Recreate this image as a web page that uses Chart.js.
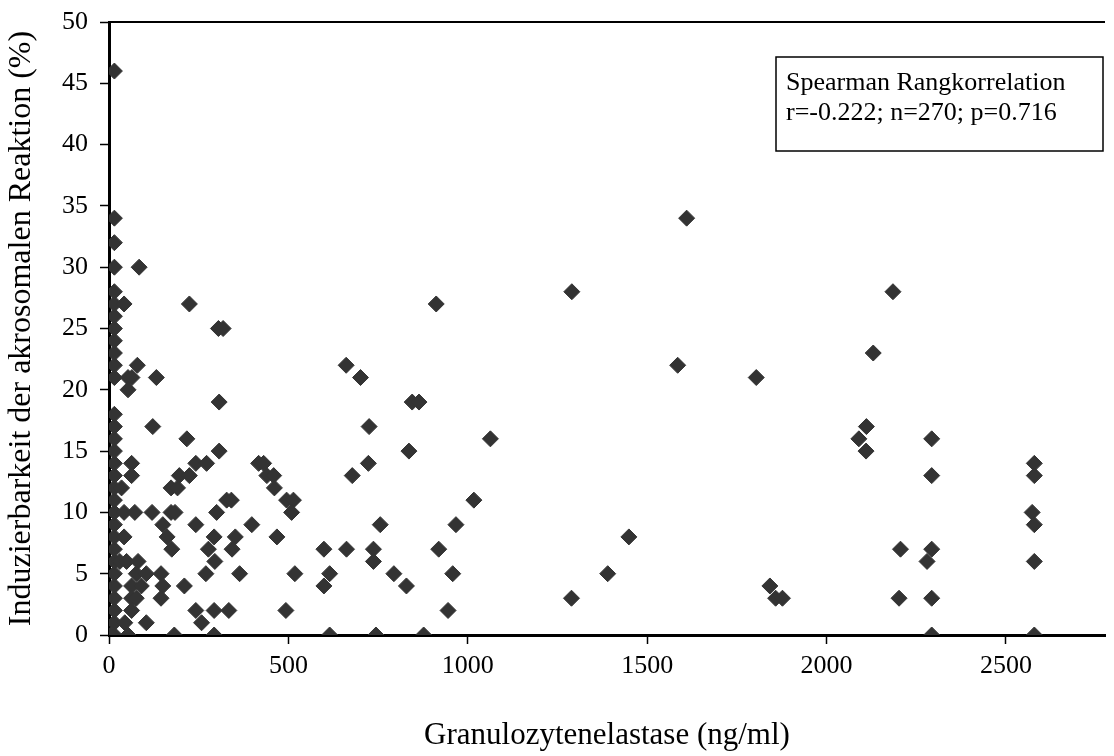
<!DOCTYPE html>
<html>
<head>
<meta charset="utf-8">
<script src="https://cdn.jsdelivr.net/npm/chart.js@4"></script>
<style>
  html, body { margin: 0; padding: 0; background: #fff; }
  #wrap { width: 1114px; height: 756px; }
</style>
</head>
<body>
<div id="wrap"><canvas id="scatterChart" width="1114" height="756"></canvas></div>
<script>
// Granulozytenelastase (ng/ml) vs. Induzierbarkeit der akrosomalen Reaktion (%)

// x values, ng/ml
const elastase = [
  // column near zero
  15, 15, 15, 15, 15, 15, 15, 15, 15, 15, 15, 15, 15, 15, 15, 15,
  15, 15, 15, 15, 15, 15, 15, 15, 15, 15, 15, 15, 15, 15, 15, 5,
  // 30 - 370
  42, 84, 224, 305, 318, 79, 53, 64, 132, 53, 122, 307, 217, 307,
  63, 242, 272, 63, 196, 224, 35, 173, 191, 328, 341,
  42, 72, 120, 173, 184, 300, 150, 242, 42, 162, 293, 352,
  175, 277, 343, 30, 49, 81, 295, 76, 104, 145, 270, 364,
  63, 90, 150, 210, 63, 76, 145, 63, 242, 293, 334,
  44, 104, 258, 53, 182, 293,
  // 380 - 900
  398, 468, 417, 431, 440, 459, 461, 495, 514, 509, 518, 493,
  661, 701, 725, 723, 678, 845, 864, 836, 756, 599, 662, 737,
  737, 615, 599, 794, 829, 615, 744, 877,
  // 900 - 1650
  1063, 1017, 967, 919, 958, 945, 1289, 1390, 1449,
  912, 1290, 1610, 1585,
  // 1800 - 2600
  2185, 2130, 1804, 2111, 2090, 2110, 1842, 1858, 1877,
  2293, 2293, 2206, 2293, 2280, 2202, 2293, 2293,
  2579, 2579, 2573, 2579, 2579, 2579
];

// y values, %
const reaction = [
  0, 1, 2, 3, 4, 5, 6, 7, 8, 9, 10, 11, 12, 13, 14, 15,
  16, 17, 18, 21, 22, 23, 24, 25, 26, 27, 28, 30, 32, 34, 46, 0,
  27, 30, 27, 25, 25, 22, 21, 21, 21, 20, 17, 19, 16, 15,
  14, 14, 14, 13, 13, 13, 12, 12, 12, 11, 11,
  10, 10, 10, 10, 10, 10, 9, 9, 8, 8, 8, 8,
  7, 7, 7, 6, 6, 6, 6, 5, 5, 5, 5, 5,
  4, 4, 4, 4, 3, 3, 3, 2, 2, 2, 2,
  1, 1, 1, 0, 0, 0,
  9, 8, 14, 14, 13, 13, 12, 11, 11, 10, 5, 2,
  22, 21, 17, 14, 13, 19, 19, 15, 9, 7, 7, 7,
  6, 5, 4, 5, 4, 0, 0, 0,
  16, 11, 9, 7, 5, 2, 3, 5, 8,
  27, 28, 34, 22,
  28, 23, 21, 17, 16, 15, 4, 3, 3,
  16, 13, 7, 7, 6, 3, 3, 0,
  14, 13, 10, 9, 6, 0
];

const xTicks = [0, 500, 1000, 1500, 2000, 2500];
const yTicks = [0, 5, 10, 15, 20, 25, 30, 35, 40, 45, 50];

const statsLines = ["Spearman Rangkorrelation", "r=-0.222; n=270; p=0.716"];

const serif = "'Liberation Serif', 'Times New Roman', serif";

// top border of the plot + the text box with the statistics
const framePlugin = {
  id: "frame",
  afterDraw(chart) {
    const { ctx, chartArea } = chart;
    ctx.save();
    ctx.strokeStyle = "#000";
    ctx.lineWidth = 2;
    ctx.beginPath();
    ctx.moveTo(chartArea.left, chartArea.top);
    ctx.lineTo(chartArea.right, chartArea.top);
    ctx.stroke();

    const bx = 776, by = 57, bw = 327, bh = 94;
    ctx.fillStyle = "#fff";
    ctx.fillRect(bx, by, bw, bh);
    ctx.lineWidth = 1.5;
    ctx.strokeRect(bx, by, bw, bh);
    ctx.fillStyle = "#000";
    ctx.font = "26px " + serif;
    ctx.textBaseline = "middle";
    ctx.fillText(statsLines[0], bx + 10, by + 26);
    ctx.fillText(statsLines[1], bx + 10, by + 56);
    ctx.restore();
  },
};

new Chart(document.getElementById("scatterChart"), {
  type: "scatter",
  data: {
    datasets: [
      {
        data: elastase.map((x, i) => ({ x: x, y: reaction[i] })),
        pointStyle: "rectRot",
        pointRadius: 8,
        pointBackgroundColor: "#333333",
        pointBorderColor: "#333333",
        pointBorderWidth: 1,
      },
    ],
  },
  options: {
    responsive: false,
    animation: false,
    layout: { padding: { top: 22, right: 0, left: 0, bottom: 0 } },
    plugins: {
      legend: { display: false },
      tooltip: { enabled: false },
    },
    scales: {
      x: {
        type: "linear",
        min: 0,
        max: 2776,
        afterBuildTicks: (s) => {
          s.ticks = xTicks.map((v) => ({ value: v }));
        },
        afterFit: (s) => {
          s.height = 121;
        },
        ticks: {
          color: "#000",
          font: { family: serif, size: 26 },
          padding: 7,
          maxRotation: 0,
          callback: (v) => String(v),
        },
        grid: {
          drawOnChartArea: false,
          drawTicks: true,
          tickLength: 9,
          tickColor: "#000",
          tickWidth: 1.5,
        },
        border: { color: "#000", width: 3 },
        title: {
          display: true,
          text: "Granulozytenelastase (ng/ml)",
          color: "#000",
          font: { family: serif, size: 31 },
          padding: { top: 0, bottom: 2 },
        },
      },
      y: {
        min: 0,
        max: 50,
        afterBuildTicks: (s) => {
          s.ticks = yTicks.map((v) => ({ value: v }));
        },
        afterFit: (s) => {
          s.width = 109;
          s.paddingTop = 0;
          s.paddingBottom = 0;
        },
        ticks: {
          color: "#000",
          font: { family: serif, size: 26 },
          padding: 12,
          callback: (v) => String(v),
        },
        grid: {
          drawOnChartArea: false,
          drawTicks: true,
          tickLength: 9,
          tickColor: "#000",
          tickWidth: 1.5,
        },
        border: { color: "#000", width: 3 },
        title: {
          display: true,
          text: "Induzierbarkeit der akrosomalen Reaktion (%)",
          color: "#000",
          font: { family: serif, size: 32 },
          padding: { top: 2, bottom: 0 },
        },
      },
    },
  },
  plugins: [framePlugin],
});
</script>
</body>
</html>
